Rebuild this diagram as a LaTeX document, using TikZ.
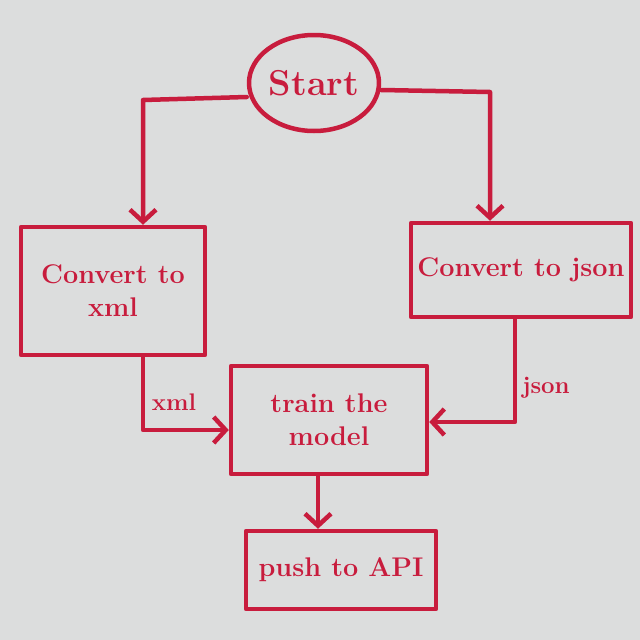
\documentclass[tikz,border=0pt]{standalone}
\usetikzlibrary{arrows.meta,shapes.geometric}
\definecolor{board}{HTML}{DCDDDD}
\definecolor{marker}{HTML}{C81C3D}
\tikzset{
  ink/.style={draw=marker, line width=4.5pt, line cap=round, line join=round},
  boxnode/.style={ink, rectangle, inner sep=0pt, text=marker, align=center, font=\bfseries\fontsize{27}{33}\selectfont},
  flow/.style={ink, -{Straight Barb[length=12pt,width=26pt,line width=4.5pt]}},
  lbl/.style={text=marker, font=\bfseries\fontsize{24}{26}\selectfont}
}
\begin{document}
\begin{tikzpicture}[x=1pt,y=-1pt]
\fill[board] (0,0) rectangle (640,640);
\useasboundingbox (0,0) rectangle (640,640);
\node[ink, ellipse, inner sep=0pt, minimum width=130pt, minimum height=96pt, text=marker, font=\bfseries\fontsize{36}{40}\selectfont] (start) at (314,83) {Start};
\node[boxnode, minimum width=184pt, minimum height=128pt] (xmlbox) at (113,291) {Convert to\\xml};
\node[boxnode, minimum width=220pt, minimum height=94pt] (jsonbox) at (521,270) {Convert to json};
\node[boxnode, minimum width=196pt, minimum height=108pt] (train) at (329,420) {train the\\model};
\node[boxnode, minimum width=190pt, minimum height=78pt] (push) at (341,570) {push to API};
\coordinate (l1) at (143,100);
\coordinate (r1) at (490,92);
\coordinate (l2) at (143,430);
\coordinate (r2) at (515,422);
\draw[flow] (start.west |- 0,97) -- (l1) -- (l1 |- xmlbox.north);
\draw[flow] (start.east |- 0,90) -- (r1) -- (r1 |- jsonbox.north);
\draw[flow] (l2 |- xmlbox.south) -- (l2) -- (l2 -| train.west);
\draw[flow] (r2 |- jsonbox.south) -- (r2) -- (r2 -| train.east);
\draw[flow] (train.south -| 318,0) -- (318,0 |- push.north);
\node[lbl] (xmllbl) at (174,402) {xml};
\node[lbl] (jsonlbl) at (546,388) {json};
\end{tikzpicture}
\end{document}
